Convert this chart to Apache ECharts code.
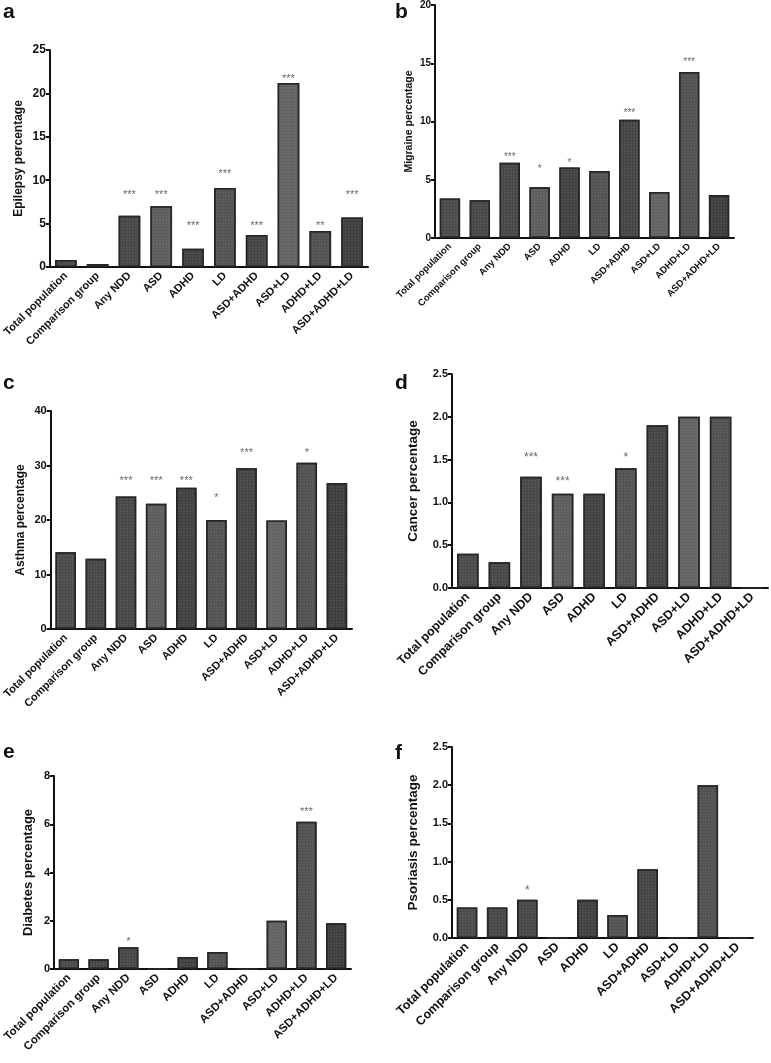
<!DOCTYPE html>
<html>
<head>
<meta charset="utf-8">
<script src="https://cdn.jsdelivr.net/npm/echarts@6/dist/echarts.min.js"></script>
<style>
html,body{margin:0;padding:0;background:#fff;}
#chart{width:771px;height:1063px;}
</style>
</head>
<body>
<div id="chart"></div>
<script>
// ---------- data ----------
const categories = ['Total population','Comparison group','Any NDD','ASD','ADHD','LD','ASD+ADHD','ASD+LD','ADHD+LD','ASD+ADHD+LD'];

const epilepsy     = [0.8, 0.35, 5.9, 7.0, 2.1, 9.1, 3.7, 21.2, 4.15, 5.7];
const epilepsySig  = ['', '', '***', '***', '***', '***', '***', '***', '**', '***'];
const epilepsySigY = [null, null, 8.5, 8.5, 5.0, 10.9, 5.0, 21.9, 5.0, 8.5];

const migraine     = [3.4, 3.25, 6.45, 4.35, 6.05, 5.75, 10.15, 3.95, 14.25, 3.7];
const migraineSig  = ['', '', '***', '*', '*', '', '***', '', '***', ''];
const migraineSigY = [null, null, 7.1, 6.1, 6.6, null, 10.9, null, 15.3, null];

const asthma       = [14.1, 12.9, 24.3, 23.0, 25.9, 20.0, 29.5, 19.9, 30.5, 26.8];
const asthmaSig    = ['', '', '***', '***', '***', '*', '***', '', '*', ''];
const asthmaSigY   = [null, null, 27.6, 27.6, 27.6, 24.4, 32.7, null, 32.7, null];

const cancer       = [0.4, 0.3, 1.3, 1.1, 1.1, 1.4, 1.9, 2.0, 2.0, 0];
const cancerSig    = ['', '', '***', '***', '', '*', '', '', '', ''];
const cancerSigY   = [null, null, 1.54, 1.27, null, 1.55, null, null, null, null];

const diabetes     = [0.4, 0.4, 0.9, 0, 0.5, 0.7, 0, 2.0, 6.1, 1.9];
const diabetesSig  = ['', '', '*', '', '', '', '', '', '***', ''];
const diabetesSigY = [null, null, 1.2, null, null, null, null, null, 6.6, null];

const psoriasis     = [0.4, 0.4, 0.5, 0, 0.5, 0.3, 0.9, 0, 2.0, 0];
const psoriasisSig  = ['', '', '*', '', '', '', '', '', '', ''];
const psoriasisSigY = [null, null, 0.65, null, null, null, null, null, null, null];

const yTicksEpilepsy = [0, 25, 5];
const yTicksMigraine = [0, 20, 5];
const yTicksAsthma = [0, 40, 10];
const yTicksCancer = [0, 2.5, 0.5];
const yTicksDiabetes = [0, 8, 2];
const yTicksPsoriasis = [0, 2.5, 0.5];

// ---------- layout / style ----------
const FONT = '"Liberation Sans", Arial, Helvetica, sans-serif';
const shades = ['#4a4a4a','#474747','#464646','#5c5c5c','#404040','#525252','#444444','#626262','#505050','#3c3c3c'];

const panels = [
  {letter:'a', lx:3,   ly:21,  name:'Epilepsy percentage', v:epilepsy,  s:epilepsySig,  sy:epilepsySigY,  t:yTicksEpilepsy, dec:0,
   grid:{left:48, top:50, width:320, height:217}, fx:11, fy:12, fn:12, fs:11, gap:25},
  {letter:'b', lx:395, ly:21,  name:'Migraine percentage', v:migraine,  s:migraineSig,  sy:migraineSigY,  t:yTicksMigraine, dec:0,
   grid:{left:435, top:5, width:299, height:233}, fx:9.5, fy:10, fn:10.5, fs:10, gap:20},
  {letter:'c', lx:3,   ly:392, name:'Asthma percentage',   v:asthma,    s:asthmaSig,    sy:asthmaSigY,    t:yTicksAsthma, dec:0,
   grid:{left:47, top:411, width:305, height:218}, fx:11, fy:11, fn:12, fs:11, gap:24},
  {letter:'d', lx:395, ly:392, name:'Cancer percentage',   v:cancer,    s:cancerSig,    sy:cancerSigY,    t:yTicksCancer, dec:1,
   grid:{left:452, top:374, width:316, height:214}, fx:12.5, fy:11, fn:13.5, fs:12, gap:32},
  {letter:'e', lx:3,   ly:761, name:'Diabetes percentage', v:diabetes,  s:diabetesSig,  sy:diabetesSigY,  t:yTicksDiabetes, dec:0,
   grid:{left:52, top:776, width:299, height:193}, fx:11.5, fy:11, fn:13, fs:11, gap:19},
  {letter:'f', lx:395, ly:762, name:'Psoriasis percentage',v:psoriasis, s:psoriasisSig, sy:psoriasisSigY, t:yTicksPsoriasis, dec:1,
   grid:{left:452, top:747, width:301, height:191}, fx:12.5, fy:11, fn:13.5, fs:12, gap:32}
];

const decal = {
  symbol: 'rect',
  symbolSize: 0.5,
  dashArrayX: [2, 1],
  dashArrayY: [2, 1],
  color: 'rgba(185,185,185,0.45)'
};

const grid = [], xAxis = [], yAxis = [], series = [], graphic = [];

panels.forEach((p, i) => {
  grid.push(Object.assign({containLabel:false}, p.grid));
  xAxis.push({
    type: 'category', gridIndex: i, data: categories,
    axisLine: {lineStyle: {color: '#111', width: 2}},
    axisTick: {alignWithLabel: true, length: 4, lineStyle: {color: '#111', width: 2}},
    axisLabel: {interval: 0, rotate: 45, margin: 7, fontFamily: FONT, fontWeight: 'bold', fontSize: p.fx, color: '#111'}
  });
  yAxis.push({
    type: 'value', gridIndex: i, min: p.t[0], max: p.t[1], interval: p.t[2],
    name: p.name, nameLocation: 'middle', nameGap: p.gap, nameRotate: 90,
    nameTextStyle: {fontFamily: FONT, fontWeight: 'bold', fontSize: p.fn, color: '#111'},
    splitLine: {show: false},
    axisLine: {show: true, lineStyle: {color: '#111', width: 2}},
    axisTick: {show: true, length: 4, lineStyle: {color: '#111', width: 2}},
    axisLabel: {margin: 4, fontFamily: FONT, fontWeight: 'bold', fontSize: p.fy, color: '#111',
      formatter: v => p.dec ? v.toFixed(p.dec) : String(v)}
  });
  series.push({
    type: 'bar', xAxisIndex: i, yAxisIndex: i, barCategoryGap: '32%',
    data: p.v.map((v, k) => ({value: v, itemStyle: {color: shades[k], decal: decal}})),
    itemStyle: {borderColor: '#262626', borderWidth: 1.5},
    silent: true, animation: false
  });
  const sdata = [];
  p.s.forEach((txt, k) => { if (txt) sdata.push([categories[k], p.sy[k], txt]); });
  series.push({
    type: 'scatter', xAxisIndex: i, yAxisIndex: i, symbolSize: 0, silent: true, animation: false, z: 5,
    data: sdata,
    label: {show: true, position: 'inside', formatter: q => q.data[2], offset: [0, 2],
      fontFamily: FONT, fontSize: p.fs, color: '#444'}
  });
  graphic.push({
    type: 'text', left: p.lx, top: p.ly - 19,
    style: {text: p.letter, font: 'bold 21px ' + FONT, fill: '#111'}
  });
});

const chart = echarts.init(document.getElementById('chart'), null, {renderer: 'canvas'});
chart.setOption({
  backgroundColor: '#fff',
  animation: false,
  grid, xAxis, yAxis, series, graphic
});
</script>
</body>
</html>
